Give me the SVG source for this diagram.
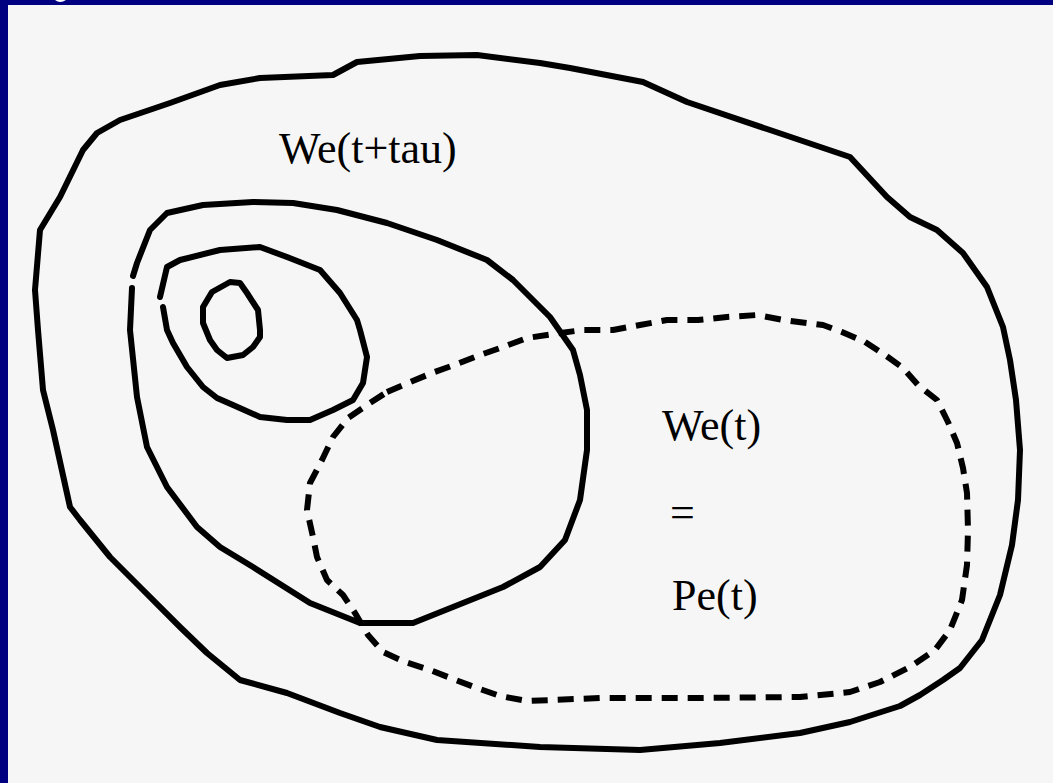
<svg xmlns="http://www.w3.org/2000/svg" width="1053" height="783" viewBox="0 0 1053 783">
<style>
.bg{fill:#000080}
.paper{fill:#f6f6f6}
.solid{fill:none;stroke:#000;stroke-width:6;stroke-linejoin:round;stroke-linecap:round}
.dash{fill:none;stroke:#000;stroke-width:6;stroke-dasharray:16 10;stroke-linejoin:round}
.lbl{font-family:"Liberation Serif","Times New Roman",serif;font-size:44px;fill:#000}
</style>
<rect class="bg" x="0" y="0" width="1053" height="783"/>
<rect class="paper" x="8" y="5" width="1045" height="778"/>
<path d="M55,0 Q60,4 66,0 Z" fill="#ffffff"/>
<g id="curves">
<g id="outer">
<polygon class="solid" points="260,78 333,75 357,62 420,56 477,55 540,63 570,68 643,82 687,102 770,130 850,157 887,197 910,217 937,230 963,253 987,287 1003,327 1010,360 1016,400 1020,450 1018,500 1012,545 1000,595 982,640 960,668 943,680 920,695 900,706 850,722 800,733 720,743 640,750 540,747 437,740 380,727 340,713 287,693 240,680 207,653 180,627 143,590 110,557 80,520 70,507 53,430 43,390 38,330 35,290 40,230 60,197 83,150 97,133 120,120 170,103 220,85"/>
</g>
<g id="middle">
<polyline class="solid" points="132,288 130,330 137,397 147,447 167,487 197,527 220,547 253,567 310,603 360,623 413,623 453,607 503,587 540,567 565,540 580,500 587,450 587,410 580,375 573,350 550,317 540,307 513,280 487,260 437,240 387,223 337,210 293,203 253,202 203,205 167,213 150,230 137,263 133,276"/>
</g>
<g id="inner">
<polyline class="solid" points="163,307 167,330 173,343 187,367 203,387 217,398 233,405 260,417 287,420 310,420 333,410 353,400 363,383 367,357 360,330 357,320 340,293 320,270 287,257 260,247 220,250 180,260 167,267 160,297"/>
</g>
<g id="core">
<polygon class="solid" points="203,307 212,292 230,282 240,283 247,293 258,310 260,330 260,337 253,347 243,355 227,358 217,350 210,340 203,323"/>
</g>
<g id="dashed">
<polygon class="dash" points="387,392 408,383 432,373 457,364 480,355 503,347 527,338 553,334 583,330 613,330 640,325 667,320 698,320 727,317 757,315 783,320 823,325 842,332 865,342 885,355 903,368 918,385 937,400 948,422 957,443 963,468 967,493 968,530 967,565 962,600 950,630 935,650 910,667 880,682 850,692 800,697 700,698 600,698 527,701 500,696 477,688 453,679 430,670 405,662 383,652 368,635 355,613 343,595 327,580 317,557 313,537 307,510 310,483 322,460 333,437 348,418 367,405"/>
</g>
</g>
<g id="labels">
<text class="lbl" x="279" y="163">We(t+tau)</text>
<text class="lbl" x="662" y="440">We(t)</text>
<text class="lbl" x="670" y="527">=</text>
<text class="lbl" x="672" y="610">Pe(t)</text>
</g>
</svg>
